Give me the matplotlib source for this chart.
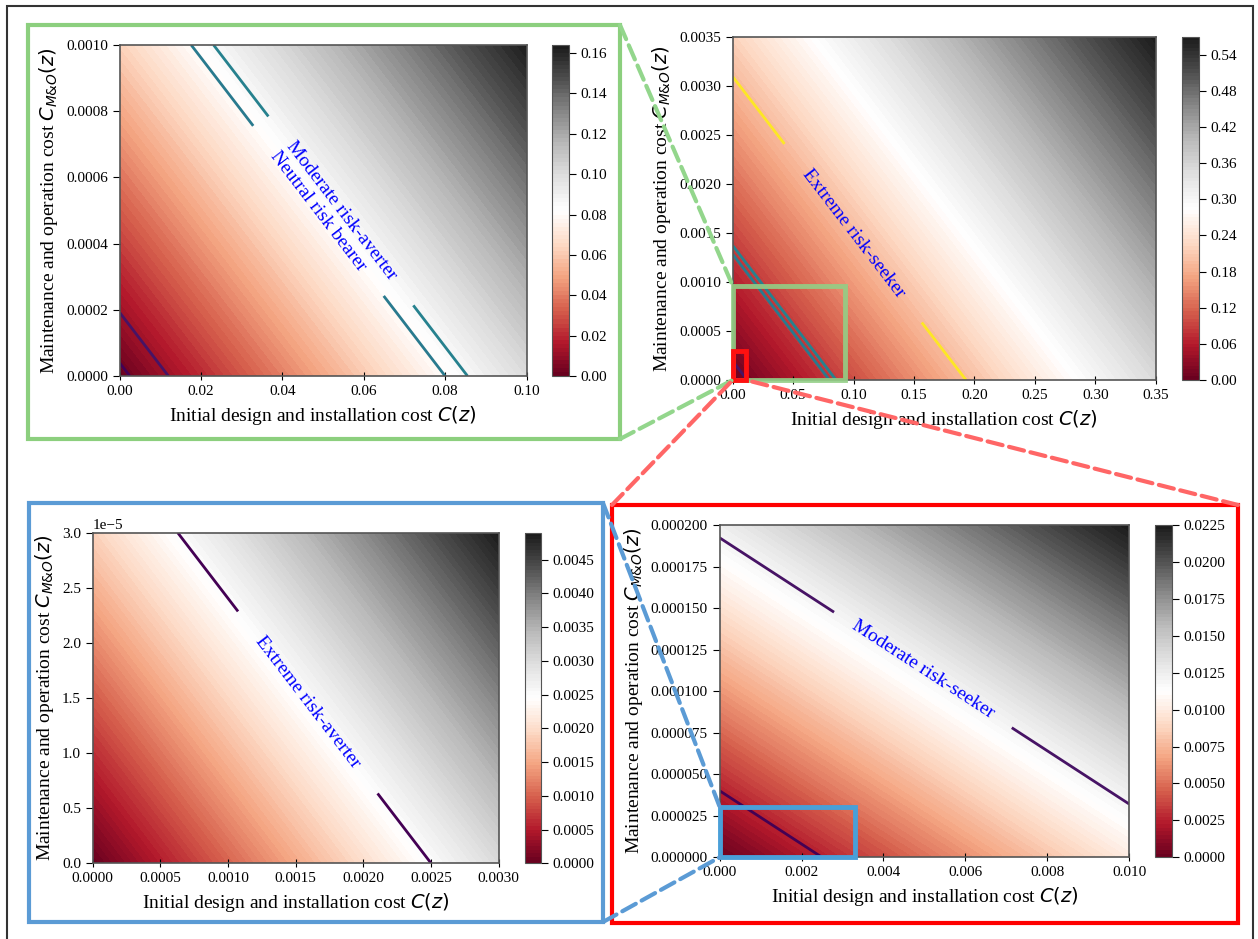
import numpy as np
import matplotlib.pyplot as plt
from matplotlib.patches import Rectangle, ConnectionPatch
from matplotlib.colors import Normalize

plt.rcParams['font.family'] = ['Liberation Serif', 'DejaVu Serif']
plt.rcParams['mathtext.fontset'] = 'dejavusans'
plt.rcParams['font.size'] = 11

# cost surface: value = C(z) + mo_weight * C_M&O(z), slope
mo_weight = 62.4

# risk attitude boundaries (contour levels) and their names
line_levels = [0.0025, 0.012, 0.08, 0.0855, 0.193]
line_names = {0.0025: 'Extreme risk-averter', 0.012: 'Moderate risk-seeker',
              0.08: 'Neutral risk bearer', 0.0855: 'Moderate risk-averter',
              0.193: 'Extreme risk-seeker'}

# panel ranges
p1_xmax, p1_ymax = 0.10, 0.0010
p2_xmax, p2_ymax = 0.35, 0.0035
p3_xmax, p3_ymax = 0.0030, 3.0e-5
p4_xmax, p4_ymax = 0.010, 0.000200

p1_xticks = [0.00, 0.02, 0.04, 0.06, 0.08, 0.10]
p1_yticks = [0.0, 0.0002, 0.0004, 0.0006, 0.0008, 0.0010]
p1_cticks = [0.00, 0.02, 0.04, 0.06, 0.08, 0.10, 0.12, 0.14, 0.16]
p2_xticks = [0.00, 0.05, 0.10, 0.15, 0.20, 0.25, 0.30, 0.35]
p2_yticks = [0.0, 0.0005, 0.0010, 0.0015, 0.0020, 0.0025, 0.0030, 0.0035]
p2_cticks = [0.00, 0.06, 0.12, 0.18, 0.24, 0.30, 0.36, 0.42, 0.48, 0.54]
p3_xticks = [0.0, 0.0005, 0.0010, 0.0015, 0.0020, 0.0025, 0.0030]
p3_yticks = [0.0, 0.5e-5, 1.0e-5, 1.5e-5, 2.0e-5, 2.5e-5, 3.0e-5]
p3_cticks = [0.0, 0.0005, 0.0010, 0.0015, 0.0020, 0.0025, 0.0030, 0.0035, 0.0040, 0.0045]
p4_xticks = [0.000, 0.002, 0.004, 0.006, 0.008, 0.010]
p4_yticks = [0.0, 0.000025, 0.00005, 0.000075, 0.0001, 0.000125, 0.00015, 0.000175, 0.0002]
p4_cticks = [0.0, 0.0025, 0.0050, 0.0075, 0.0100, 0.0125, 0.0150, 0.0175, 0.0200, 0.0225]

# zoom windows drawn on the parent panels (width, height)
green_zoom = (0.093, 0.00096)
red_zoom = (0.011, 0.0003)
blue_zoom = (0.0033, 0.0000305)

W, H = 1258, 939
fig = plt.figure(figsize=(W / 100, H / 100), dpi=100)
line_norm = Normalize(min(line_levels), max(line_levels))


def px_rect(x0, y0, x1, y1):
    return [x0 / W, 1 - y1 / H, (x1 - x0) / W, (y1 - y0) / H]


def px_pt(x, y):
    return (x / W, 1 - y / H)


def panel(ax_px, cb_px, xmax, ymax, xticks, yticks, cticks, labels, gap):
    ax = fig.add_axes(px_rect(*ax_px))
    cax = fig.add_axes(px_rect(*cb_px))
    X, Y = np.meshgrid(np.linspace(0, xmax, 300), np.linspace(0, ymax, 300))
    Z = X + mo_weight * Y
    cf = ax.contourf(X, Y, Z, levels=100, cmap='RdGy')
    for lev in line_levels:
        if lev > Z.max():
            continue
        cs = ax.contour(X, Y, Z, levels=[lev], colors=[plt.cm.viridis(line_norm(lev))],
                        linewidths=2)
        if lev in labels:
            ax.clabel(cs, fmt={lev: line_names[lev]}, manual=[labels[lev]], inline=True,
                      inline_spacing=gap, fontsize=14, colors='blue')
    ax.set_xlim(0, xmax)
    ax.set_ylim(0, ymax)
    ax.set_xticks(xticks)
    ax.set_yticks(yticks)
    ax.tick_params(axis='y', direction='out', length=5, labelsize=11)
    ax.tick_params(axis='x', direction='inout', length=6, labelsize=11)
    for s in ax.spines.values():
        s.set_color('#555555')
        s.set_linewidth(1.2)
    ax.set_xlabel('Initial design and installation cost $C(z)$', fontsize=14)
    ax.set_ylabel('Maintenance and operation cost $C_{M&O}(z)$', fontsize=14)
    cb = fig.colorbar(cf, cax=cax, ticks=cticks)
    cb.outline.set_edgecolor('#555555')
    cax.tick_params(direction='out', length=5, labelsize=11)
    return ax


ax1 = panel((119.6, 45, 526.5, 376), (552, 45, 568.6, 376), p1_xmax, p1_ymax,
            p1_xticks, p1_yticks, p1_cticks,
            {0.08: (0.049, 0.0005), 0.0855: (0.0545, 0.0005)}, 34)
ax2 = panel((732.7, 36.7, 1155.8, 380), (1181.8, 36.7, 1199, 380), p2_xmax, p2_ymax,
            p2_xticks, p2_yticks, p2_cticks, {0.193: (0.1, 0.0015)}, 34)
ax3 = panel((92.7, 532.7, 498.8, 863.3), (524.5, 532.7, 540.8, 863.3), p3_xmax, p3_ymax,
            p3_xticks, p3_yticks, p3_cticks, {0.0025: (0.0016, 1.47e-5)}, 34)
ax4 = panel((719.6, 525, 1129.2, 857.3), (1154.8, 525, 1172, 857.3), p4_xmax, p4_ymax,
            p4_xticks, p4_yticks, p4_cticks, {0.012: (0.00497, 0.000113)}, 23)

# zoom windows on the parent panels
ax2.add_patch(Rectangle((0, 0), *green_zoom, fill=False, ec='#93cf86', lw=3.5,
                        alpha=0.9, zorder=5, clip_on=False))
ax2.add_patch(Rectangle((0, 0), *red_zoom, fill=False, ec='#ff1010', lw=3.5,
                        zorder=6, clip_on=False))
ax4.add_patch(Rectangle((0, 0), *blue_zoom, fill=False, ec='#4a9fd8', lw=3.5,
                        zorder=5, clip_on=False))

# frames around the zoomed panels
green_box = (28, 25, 620, 439)
blue_box = (28.6, 503, 603, 922)
red_box = (612, 505, 1238, 923)
for box, col in [(green_box, '#8ccf7e'), (blue_box, '#5b9bd5'), (red_box, '#ff0000')]:
    r = px_rect(*box)
    fig.add_artist(Rectangle((r[0], r[1]), r[2], r[3], transform=fig.transFigure,
                             fill=False, ec=col, lw=3))

# outer frame (open at the bottom)
fr = px_rect(7, 6, 1253, 960)
fig.add_artist(Rectangle((fr[0], fr[1]), fr[2], fr[3], transform=fig.transFigure,
                         fill=False, ec='#333333', lw=1.5, clip_on=False))


def connect(fig_xy, ax, data_xy, col):
    con = ConnectionPatch(xyA=px_pt(*fig_xy), coordsA='figure fraction',
                          xyB=data_xy, coordsB='data', axesB=ax,
                          color=col, lw=3, ls='--', zorder=20)
    con.set_annotation_clip(False)
    fig.add_artist(con)


connect((green_box[2], green_box[1]), ax2, (0, green_zoom[1]), '#93d68c')
connect((green_box[2], green_box[3]), ax2, (0, 0), '#93d68c')
connect((red_box[0], red_box[1]), ax2, (0, 0), '#ff6666')
connect((red_box[2], red_box[1]), ax2, (red_zoom[0], 0), '#ff6666')
connect((blue_box[2], blue_box[1]), ax4, (0, blue_zoom[1]), '#5b9bd5')
connect((blue_box[2], blue_box[3]), ax4, (0, 0), '#5b9bd5')

fig.savefig('out.png', dpi=100)
